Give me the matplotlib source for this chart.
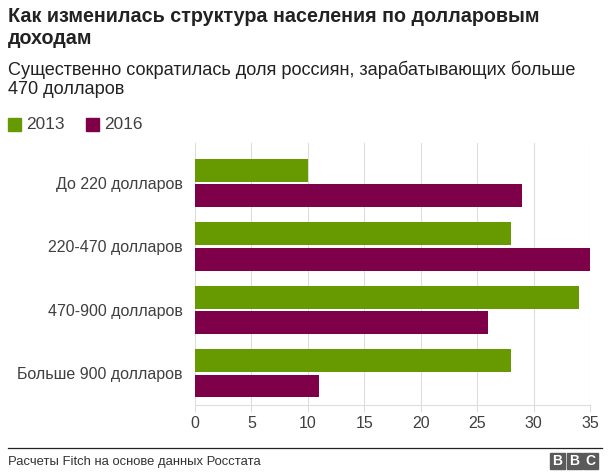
import matplotlib
matplotlib.use("Agg")
import matplotlib.pyplot as plt
from matplotlib.patches import Rectangle
import numpy as np

plt.rcParams['font.family'] = ['Liberation Sans', 'DejaVu Sans']

categories = ["До 220 долларов", "220-470 долларов", "470-900 долларов", "Больше 900 долларов"]
series_names = ["2013", "2016"]
values_2013 = [10, 28, 34, 28]
values_2016 = [29, 35, 26, 11]
xticks = [0, 5, 10, 15, 20, 25, 30, 35]

c2013 = '#669a00'
c2016 = '#7d0049'

W, H = 610, 476
fig = plt.figure(figsize=(W / 100, H / 100), dpi=100)

def fx(px):
    return px / W

def fy(py):
    return 1 - py / H

ax = fig.add_axes([fx(195), fy(405), fx(590) - fx(195), fy(143) - fy(405)])
y = np.arange(len(categories))
h = 0.36
off = 0.2
ax.barh(y - off, values_2013, height=h, color=c2013, zorder=3)
ax.barh(y + off, values_2016, height=h, color=c2016, zorder=3)
ax.set_ylim(3.5, -0.63)
ax.set_xlim(0, 35)
ax.set_xticks(xticks)
ax.set_xticklabels([str(t) for t in xticks], fontsize=11.5, color='#404040')
ax.set_yticks(y)
ax.set_yticklabels(categories, fontsize=11.5, color='#404040')
ax.tick_params(axis='y', length=0, pad=9)
ax.tick_params(axis='x', length=5, color='#dddddd', pad=3)
ax.grid(axis='x', color='#dddddd', linewidth=0.8, zorder=0)
for s in ['top', 'right', 'left']:
    ax.spines[s].set_visible(False)
ax.spines['bottom'].set_color('#dddddd')
ax.spines['bottom'].set_linewidth(0.8)

# Title and subtitle
fig.text(fx(8), fy(17), "Как изменилась структура населения по долларовым",
         fontsize=14.2, fontweight='bold', color='#222222', va='center', ha='left')
fig.text(fx(8), fy(39), "доходам",
         fontsize=14.2, fontweight='bold', color='#222222', va='center', ha='left')
fig.text(fx(8), fy(70), "Существенно сократилась доля россиян, зарабатывающих больше",
         fontsize=13.1, color='#222222', va='center', ha='left')
fig.text(fx(8), fy(89), "470 долларов",
         fontsize=13.1, color='#222222', va='center', ha='left')

# Legend
for i, (name, col) in enumerate(zip(series_names, [c2013, c2016])):
    x0 = 8 + i * 78
    fig.patches.append(Rectangle((fx(x0), fy(131)), fx(13), fy(118) - fy(131),
                                 transform=fig.transFigure, color=col, figure=fig))
    fig.text(fx(x0 + 18), fy(124.5), name, fontsize=12.4, color='#404040', va='center', ha='left')

# Footer
fig.add_artist(plt.Line2D([fx(8), fx(602)], [fy(448), fy(448)], transform=fig.transFigure,
                          color='#222222', linewidth=0.9))
fig.text(fx(8), fy(462), "Расчеты Fitch на основе данных Росстата", fontsize=9.4,
         color='#333333', va='center', ha='left')
for i, letter in enumerate("BBC"):
    x0 = 550 + i * 16.5
    fig.patches.append(Rectangle((fx(x0), fy(469)), fx(15), fy(453) - fy(469),
                                 transform=fig.transFigure, color='#5a5a5a', figure=fig))
    fig.text(fx(x0 + 7.5), fy(461), letter, fontsize=10, fontweight='bold', color='white',
             va='center', ha='center')

fig.savefig("out.png", dpi=100, facecolor='white')
